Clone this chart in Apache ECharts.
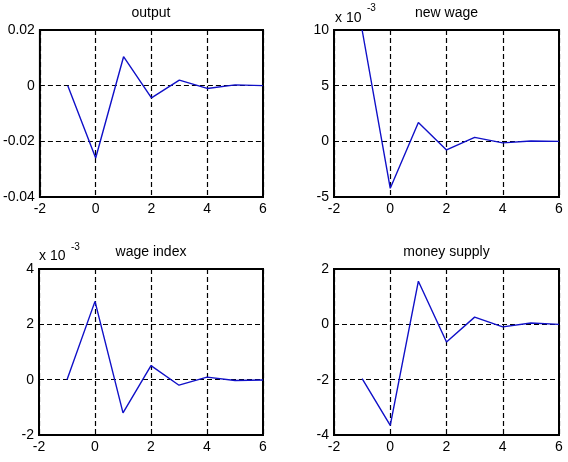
<!DOCTYPE html>
<html>
<head>
<meta charset="utf-8">
<script src="https://cdn.jsdelivr.net/npm/echarts@6/dist/echarts.min.js"></script>
<style>
html,body{margin:0;padding:0;background:#fff;}
#c{width:568px;height:462px;}
</style>
</head>
<body>
<div id="c"></div>
<script>
// Periods (x values)
var periods = [-1, 0, 1, 2, 3, 4, 5, 6];
// Panel titles
var titles = ['output', 'new wage', 'wage index', 'money supply'];
// Series values
var output = [0, -0.026, 0.0104, -0.0044, 0.002, -0.001, 0.0003, 0];
var newWage = [10, -4.22, 1.7, -0.77, 0.36, -0.14, 0.03, 0];      // x 10^-3
var wageIndex = [0, 2.83, -1.2, 0.51, -0.2, 0.09, -0.03, -0.01];  // x 10^-3
var moneySupply = [-1.96, -3.65, 1.56, -0.64, 0.26, -0.09, 0.05, 0];
// Axis ranges / ticks
var xRange = {min: -2, max: 6, interval: 2};
var yRanges = [
  {min: -0.04, max: 0.02, interval: 0.02},
  {min: -5, max: 10, interval: 5},
  {min: -2, max: 4, interval: 2},
  {min: -4, max: 2, interval: 2}
];
var seriesData = [output, newWage, wageIndex, moneySupply];

var FONT = '"Liberation Sans", Arial, Helvetica, sans-serif';
var grids = [
  {left: 39, top: 30, width: 224, height: 167},
  {left: 334, top: 30, width: 225, height: 167},
  {left: 39, top: 269, width: 224, height: 166},
  {left: 334, top: 269, width: 225, height: 166}
];
var titleCenters = [13, 13, 252, 252];

var chart = echarts.init(document.getElementById('c'), null, {renderer: 'canvas'});
var option = {
  animation: false,
  backgroundColor: '#fff',
  grid: [],
  xAxis: [],
  yAxis: [],
  series: [],
  graphic: []
};
for (var i = 0; i < 4; i++) {
  var g = grids[i];
  option.grid.push({left: g.left, top: g.top, width: g.width, height: g.height,
    show: true, borderColor: '#000', borderWidth: 2, backgroundColor: '#fff'});
  option.graphic.push({type: 'text', z: 100,
    x: g.left + g.width / 2, y: titleCenters[i],
    style: {text: titles[i], fontFamily: FONT, fontSize: 14, fill: '#000',
      align: 'center', verticalAlign: 'middle'}});
  var splitStyle = {show: true, lineStyle: {color: '#000', width: 1.2, type: [5, 3]}};
  option.xAxis.push({type: 'value', gridIndex: i, min: xRange.min, max: xRange.max,
    interval: xRange.interval,
    axisLine: {show: false}, axisTick: {show: false},
    splitLine: splitStyle,
    axisLabel: {color: '#000', fontFamily: FONT, fontSize: 14, margin: 5}});
  var yr = yRanges[i];
  option.yAxis.push({type: 'value', gridIndex: i, min: yr.min, max: yr.max,
    interval: yr.interval,
    axisLine: {show: false}, axisTick: {show: false},
    splitLine: splitStyle,
    axisLabel: {color: '#000', fontFamily: FONT, fontSize: 14, margin: 5}});
  var pts = [];
  for (var k = 0; k < periods.length; k++) pts.push([periods[k], seriesData[i][k]]);
  option.series.push({type: 'line', xAxisIndex: i, yAxisIndex: i, data: pts,
    symbol: 'none', clip: true,
    lineStyle: {color: '#1010c8', width: 1.4}});
}
// x 10^-3 multipliers
function mult(x, yMain, ySup) {
  option.graphic.push({type: 'text', z: 100, x: x, y: yMain,
    style: {text: 'x 10', fontFamily: FONT, fontSize: 14, fill: '#000',
      align: 'left', verticalAlign: 'middle'}});
  option.graphic.push({type: 'text', z: 100, x: x + 32, y: ySup,
    style: {text: '-3', fontFamily: FONT, fontSize: 10, fill: '#000',
      align: 'left', verticalAlign: 'middle'}});
}
mult(335, 18, 8);
mult(39, 256, 247);
chart.setOption(option);
</script>
</body>
</html>
